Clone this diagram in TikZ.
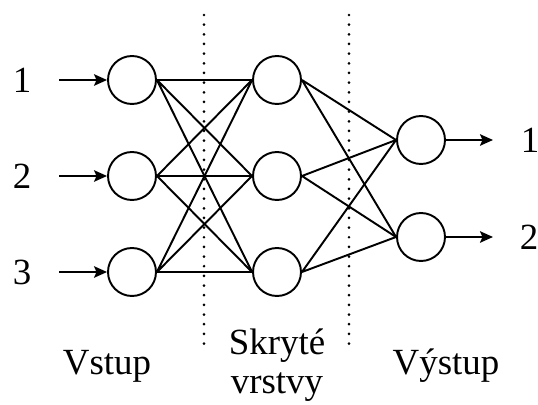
\documentclass[tikz,border=0pt]{standalone}
\usepackage{fontspec}
\newfontfamily\labelfont{Liberation Serif}
\usetikzlibrary{arrows.meta, positioning}

\begin{document}
\begin{tikzpicture}[
    x=0.02cm, y=-0.02cm,
    every node/.style={font=\labelfont\fontsize{21}{22.2}\selectfont},
    neuron/.style={draw, circle, line width=1.1pt, minimum size=0.96cm, inner sep=0pt},
    edge/.style={line width=1.1pt},
    arrow/.style={-{Stealth[length=2.6mm, width=2.3mm, inset=0.5mm]}, line width=1.1pt},
    divider/.style={dash pattern=on 0pt off 5.5pt, line cap=round, line width=1.7pt}
  ]
    \useasboundingbox (0,0) rectangle (538,405);

    % layer separators
    \draw[divider] (204,15) -- (204,345);
    \draw[divider] (349,15) -- (349,345);

    % neurons
    \node[neuron] (i1) at (132,80)  {};
    \node[neuron] (i2) at (132,176) {};
    \node[neuron] (i3) at (132,272) {};
    \node[neuron] (h1) at (277,80)  {};
    \node[neuron] (h2) at (277,176) {};
    \node[neuron] (h3) at (277,272) {};
    \node[neuron] (o1) at (421,140) {};
    \node[neuron] (o2) at (421,237) {};

    % inputs and outputs
    \node (x1) at (22,80)  {1};
    \node (x2) at (22,176) {2};
    \node (x3) at (22,272) {3};
    \node (y1) at (530,140) {1};
    \node (y2) at (529,237) {2};
    \coordinate (a1) at (59,80);
    \coordinate (a2) at (59,176);
    \coordinate (a3) at (59,272);
    \coordinate (b1) at (493,140);
    \coordinate (b2) at (493,237);

    \draw[arrow] (a1) -- (i1);
    \draw[arrow] (a2) -- (i2);
    \draw[arrow] (a3) -- (i3);
    \draw[arrow] (o1) -- (b1);
    \draw[arrow] (o2) -- (b2);

    % input -> hidden
    \draw[edge] (i1.east) -- (h1.west) (i1.east) -- (h2.west) (i1.east) -- (h3.west);
    \draw[edge] (i2.east) -- (h1.west) (i2.east) -- (h2.west) (i2.east) -- (h3.west);
    \draw[edge] (i3.east) -- (h1.west) (i3.east) -- (h2.west) (i3.east) -- (h3.west);

    % hidden -> output
    \draw[edge] (h1.east) -- (o1.west) (h1.east) -- (o2.west);
    \draw[edge] (h2.east) -- (o1.west) (h2.east) -- (o2.west);
    \draw[edge] (h3.east) -- (o1.west) (h3.east) -- (o2.west);

    % layer names
    \node[anchor=base] (vstup) at (107,375) {Vstup};
    \node[anchor=north, align=center, inner sep=0pt] (skryte) at (277,328) {Skryté\\vrstvy};
    \node[anchor=base] (vystup) at (446,375) {Výstup};

  \end{tikzpicture}
\end{document}
